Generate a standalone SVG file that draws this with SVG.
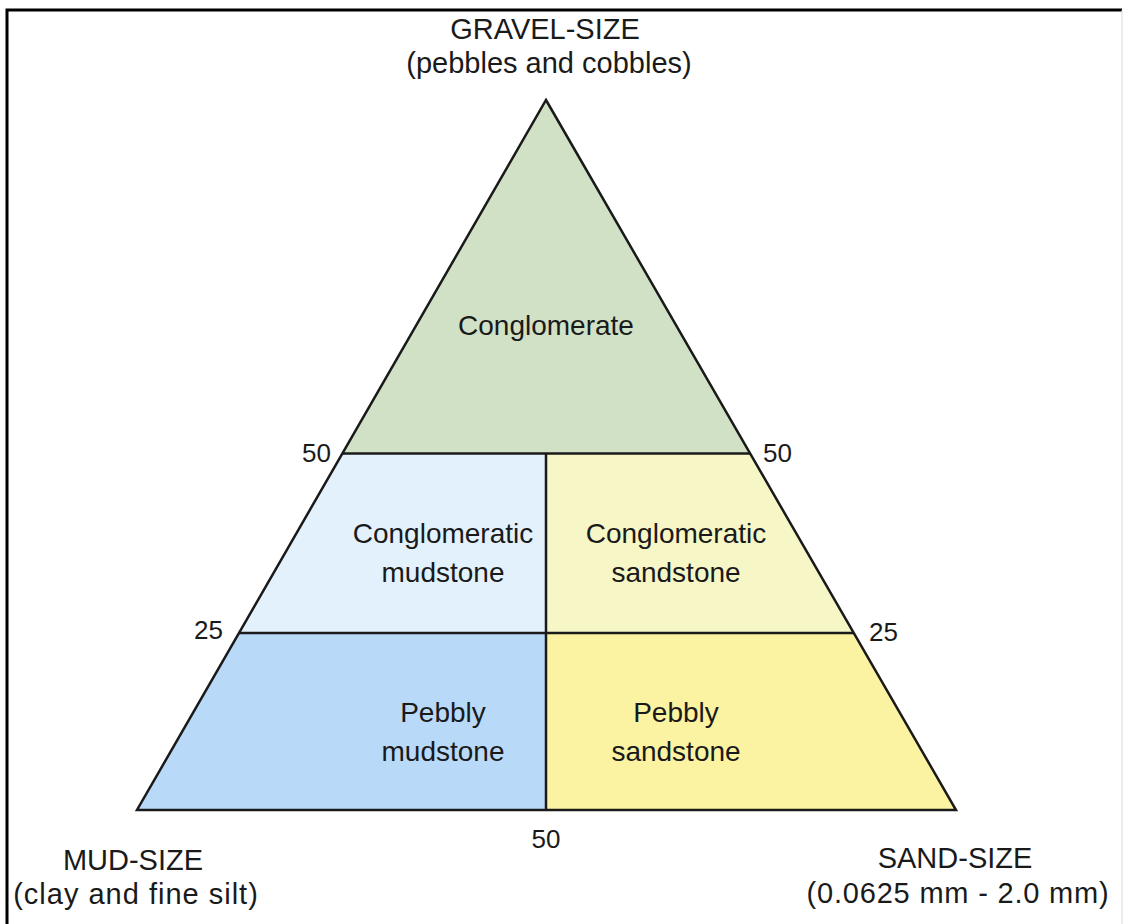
<svg xmlns="http://www.w3.org/2000/svg" width="1134" height="924" viewBox="0 0 1134 924">
<style>
text{font-family:"Liberation Sans",Arial,sans-serif;fill:#1a1a1a;}
.lbl{font-size:28px;text-anchor:middle;}
.hd{font-size:29px;text-anchor:middle;}
.num{font-size:26px;}
.ln{stroke:#1a1a1a;stroke-width:2.5;fill:none;stroke-linejoin:miter;}
</style>
<rect x="0" y="0" width="1134" height="924" fill="#ffffff"/>
<path d="M7,924 V10 H1122" stroke="#000" stroke-width="3" fill="none"/>
<line x1="1122" y1="10" x2="1122" y2="924" stroke="#d8d8d8" stroke-width="1"/>
<g id="conglomerate">
<polygon points="546,100 342,453.5 750,453.5" fill="#d1e1c6"/>
<text class="lbl" x="546" y="335">Conglomerate</text>
</g>
<g id="conglomeratic-mudstone">
<polygon points="342,453.5 546,453.5 546,633 239,633" fill="#e3f1fd"/>
<text class="lbl" x="443" y="543">Conglomeratic</text>
<text class="lbl" x="443" y="582">mudstone</text>
</g>
<g id="conglomeratic-sandstone">
<polygon points="546,453.5 750,453.5 854,633 546,633" fill="#f7f6c6"/>
<text class="lbl" x="676" y="543">Conglomeratic</text>
<text class="lbl" x="676" y="582">sandstone</text>
</g>
<g id="pebbly-mudstone">
<polygon points="239,633 546,633 546,810 137,810" fill="#b9d9f9"/>
<text class="lbl" x="443" y="722">Pebbly</text>
<text class="lbl" x="443" y="761">mudstone</text>
</g>
<g id="pebbly-sandstone">
<polygon points="546,633 854,633 956,810 546,810" fill="#fcf3a2"/>
<text class="lbl" x="676" y="722">Pebbly</text>
<text class="lbl" x="676" y="761">sandstone</text>
</g>
<g id="connectors">
<polygon class="ln" points="546,100 956,810 137,810"/>
<line class="ln" x1="342" y1="453.5" x2="750" y2="453.5"/>
<line class="ln" x1="239" y1="633" x2="854" y2="633"/>
<line class="ln" x1="546" y1="453.5" x2="546" y2="810"/>
</g>
<g id="gravel-label">
<text class="hd" x="545" y="39">GRAVEL-SIZE</text>
<text class="hd" x="549" y="73">(pebbles and cobbles)</text>
</g>
<g id="mud-label">
<text class="hd" x="133" y="870">MUD-SIZE</text>
<text class="hd" x="136" y="904" letter-spacing="1">(clay and fine silt)</text>
</g>
<g id="sand-label">
<text class="hd" x="955" y="868">SAND-SIZE</text>
<text class="hd" x="958" y="903" letter-spacing="0.8">(0.0625 mm - 2.0 mm)</text>
</g>
<g id="scale-labels">
<text class="num" x="331" y="462" text-anchor="end">50</text>
<text class="num" x="763" y="462">50</text>
<text class="num" x="223" y="639" text-anchor="end">25</text>
<text class="num" x="869" y="641">25</text>
<text class="num" x="546" y="848" text-anchor="middle">50</text>
</g>
</svg>
